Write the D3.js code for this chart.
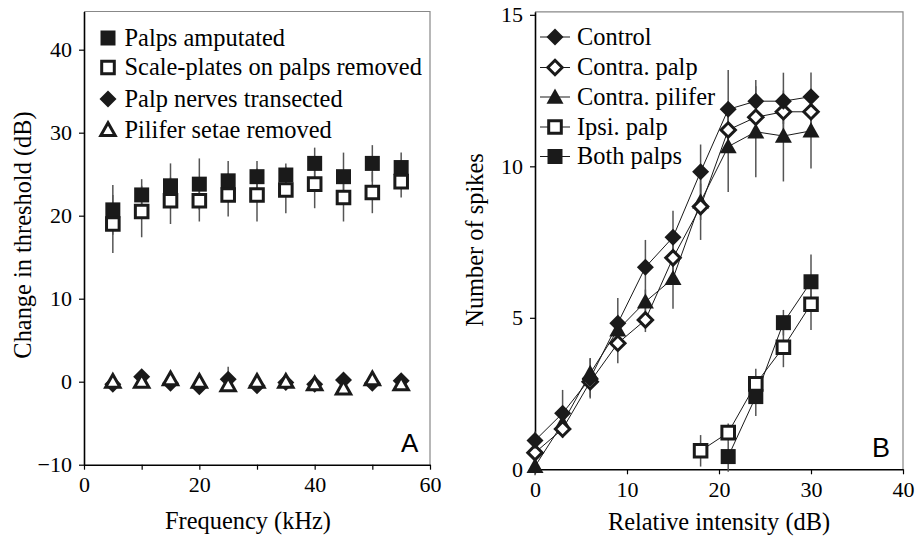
<!DOCTYPE html>
<html>
<head>
<meta charset="utf-8">
<script src="https://cdn.jsdelivr.net/npm/d3@7"></script>
<style>
  html, body { margin: 0; padding: 0; background: #fff; }
  svg { display: block; }
</style>
</head>
<body>
<svg id="chart" width="916" height="538"></svg>
<script>
// ---------- Panel A data ----------
const freqA = [5, 10, 15, 20, 25, 30, 35, 40, 45, 50, 55];
const palpsAmputated    = [20.7, 22.5, 23.6, 23.8, 24.2, 24.7, 24.9, 26.3, 24.7, 26.3, 25.8];
const palpsAmputatedErr = [3.0, 1.9, 2.7, 3.1, 2.4, 1.9, 1.4, 1.9, 2.9, 2.2, 1.8];
const scalePlates       = [19.0, 20.5, 21.8, 21.8, 22.5, 22.5, 23.1, 23.8, 22.2, 22.8, 24.1];
const scalePlatesErr    = [3.5, 3.1, 2.8, 2.5, 2.6, 3.2, 2.8, 2.9, 2.9, 2.5, 1.9];
const palpNerves        = [-0.3, 0.6, -0.2, -0.6, 0.3, -0.5, -0.1, -0.3, 0.2, -0.2, 0.1];
const palpNervesErr     = [0.4, 0.4, 0.4, 0.4, 1.5, 0.4, 0.4, 0.4, 0.4, 0.4, 0.4];
const piliferSetae      = [0.0, 0.0, 0.3, 0.0, -0.4, 0.0, 0.0, -0.3, -0.8, 0.3, -0.3];
const piliferSetaeErr   = [0.4, 0.4, 0.4, 0.4, 0.4, 0.4, 0.4, 0.4, 0.4, 0.4, 0.4];
const ticksAx = [0, 10, 20, 30, 40, 50, 60];
const labelsAx = [0, 20, 40, 60];
const ticksAy = [-10, 0, 10, 20, 30, 40];
const legendA = ["Palps amputated", "Scale-plates on palps removed", "Palp nerves transected", "Pilifer setae removed"];

// ---------- Panel B data ----------
const intensityB = [0, 3, 6, 9, 12, 15, 18, 21, 24, 27, 30];
const control        = [0.95, 1.85, 3.0, 4.82, 6.67, 7.66, 9.82, 11.88, 12.15, 12.15, 12.3];
const controlErr     = [0.3, 0.77, 0.66, 0.83, 0.9, 0.87, 0.9, 1.3, 0.7, 0.94, 0.8];
const contraPalp     = [0.55, 1.33, 2.89, 4.16, 4.93, 6.98, 8.67, 11.2, 11.62, 11.8, 11.8];
const contraPalpErr  = [0.3, 0.3, 0.5, 0.66, 0.4, 0.5, 1.1, 0.5, 0.4, 0.4, 0.4];
const contraPilifer  = [0.1, 1.52, 3.17, 4.6, 5.53, 6.3, 8.83, 10.65, 11.14, 11.0, 11.17];
const contraPiliferErr = [0.3, 0.3, 0.5, 0.5, 0.4, 1.0, 0.6, 1.5, 1.5, 1.5, 1.24];
const intensityIpsi = [18, 21, 24, 27, 30];
const ipsiPalp      = [0.61, 1.21, 2.82, 4.03, 5.45];
const ipsiPalpErr   = [0.52, 0.3, 0.5, 0.66, 0.85];
const intensityBoth = [21, 24, 27, 30];
const bothPalps     = [0.42, 2.4, 4.84, 6.19];
const bothPalpsErr  = [0.5, 0.64, 0.42, 0.9];
const ticksBx = [0, 10, 20, 30, 40];
const ticksBy = [0, 5, 10, 15];
const legendB = ["Control", "Contra. palp", "Contra. pilifer", "Ipsi. palp", "Both palps"];

// ---------- helpers ----------
const INK = "#1a1a1a";
const SERIF = "Liberation Serif";
const SANS = "Liberation Sans";
const FS = 24.4;
const sq  = r => `M${-r},${-r}H${r}V${r}H${-r}Z`;
const dia = r => `M0,${-r}L${r},0L0,${r}L${-r},0Z`;
const tri = r => `M0,${-r}L${r},${r * 0.78}L${-r},${r * 0.78}Z`;

const marker = {
  fsq:  { d: sq(7.5), fill: INK, stroke: "none", sw: 0 },
  osq:  { d: sq(6.3), fill: "#fff", stroke: INK, sw: 3 },
  fdia: { d: dia(8.5), fill: INK, stroke: "none", sw: 0 },
  odia: { d: dia(7.2), fill: "#fff", stroke: INK, sw: 3 },
  ftri: { d: tri(8.5), fill: INK, stroke: "none", sw: 0 },
  otri: { d: tri(7.2), fill: "#fff", stroke: INK, sw: 3 }
};

const svg = d3.select("#chart");

function txt(sel, family, size) {
  return sel.style("font-family", family).style("font-size", size + "px").style("fill", "#000");
}
function drawMarkers(g, xs, ys, x, y, m) {
  g.selectAll(null).data(xs.map((v, i) => [v, ys[i]])).join("path")
    .attr("d", m.d).attr("transform", d => `translate(${x(d[0])},${y(d[1])})`)
    .attr("fill", m.fill).attr("stroke", m.stroke).attr("stroke-width", m.sw);
}
function drawErr(g, xs, ys, es, x, y) {
  g.selectAll(null).data(xs.map((v, i) => [v, ys[i], es[i]])).join("line")
    .attr("x1", d => x(d[0])).attr("x2", d => x(d[0]))
    .attr("y1", d => y(d[1] - d[2])).attr("y2", d => y(d[1] + d[2]))
    .attr("stroke", "#555").attr("stroke-width", 1.5);
}
function drawLine(g, xs, ys, x, y) {
  g.append("path").datum(xs.map((v, i) => [v, ys[i]]))
    .attr("d", d3.line().x(d => x(d[0])).y(d => y(d[1])))
    .attr("fill", "none").attr("stroke", INK).attr("stroke-width", 1);
}
function frame(x0, x1, y0, y1) {
  svg.append("path").attr("d", `M${x0},${y0}H${x1}V${y1}`)
    .attr("fill", "none").attr("stroke", "#888").attr("stroke-width", 1.2);
}
function styleAxis(g) {
  g.select(".domain").attr("stroke", "#000").attr("stroke-width", 1.6);
  g.selectAll(".tick line").attr("stroke", "#000").attr("stroke-width", 1.2);
  txt(g.selectAll(".tick text"), SERIF, 22);
}

// ---------- Panel A ----------
const xA = d3.scaleLinear().domain([0, 60]).range([84, 430]);
const yA = d3.scaleLinear().domain([-10, 44.6]).range([464.7, 11.5]);
frame(xA(0), xA(60), yA(44.6), yA(-10));

const axA = svg.append("g").attr("transform", `translate(0,${yA(-10)})`)
  .call(d3.axisBottom(xA).tickValues(ticksAx).tickSize(5).tickSizeOuter(0).tickPadding(7)
    .tickFormat(d => labelsAx.includes(d) ? d : ""));
styleAxis(axA);
const ayA = svg.append("g").attr("transform", `translate(${xA(0)},0)`)
  .call(d3.axisLeft(yA).tickValues(ticksAy).tickSize(5).tickSizeOuter(0).tickPadding(7));
styleAxis(ayA);

const gA = svg.append("g");
drawErr(gA, freqA, palpsAmputated, palpsAmputatedErr, xA, yA);
drawErr(gA, freqA, scalePlates, scalePlatesErr, xA, yA);
drawErr(gA, freqA, palpNerves, palpNervesErr, xA, yA);
drawErr(gA, freqA, piliferSetae, piliferSetaeErr, xA, yA);
drawMarkers(gA, freqA, palpsAmputated, xA, yA, marker.fsq);
drawMarkers(gA, freqA, scalePlates, xA, yA, marker.osq);
drawMarkers(gA, freqA, palpNerves, xA, yA, marker.fdia);
drawMarkers(gA, freqA, piliferSetae, xA, yA, marker.otri);

// legend A
const legAy = [38, 67.5, 99, 130];
const legAm = [marker.fsq, marker.osq, marker.fdia, marker.otri];
legendA.forEach((t, i) => {
  const m = legAm[i];
  svg.append("path").attr("d", m.d).attr("transform", `translate(108,${legAy[i]})`)
    .attr("fill", m.fill).attr("stroke", m.stroke).attr("stroke-width", m.sw);
  txt(svg.append("text").attr("x", 124.5).attr("y", legAy[i] + 7.5).text(t), SERIF, FS);
});

txt(svg.append("text").attr("x", 248).attr("y", 529).attr("text-anchor", "middle")
  .text("Frequency (kHz)"), SERIF, FS);
txt(svg.append("text").attr("transform", "translate(31,235) rotate(-90)").attr("text-anchor", "middle")
  .text("Change in threshold (dB)"), SERIF, FS);
txt(svg.append("text").attr("x", 401).attr("y", 451.5).text("A"), SANS, 26);

// ---------- Panel B ----------
const xB = d3.scaleLinear().domain([0, 40]).range([535, 903]);
const yB = d3.scaleLinear().domain([0, 15.1]).range([469.3, 11.8]);
frame(xB(0), xB(40), yB(15.1), yB(0));

const axB = svg.append("g").attr("transform", `translate(0,${yB(0)})`)
  .call(d3.axisBottom(xB).tickValues(ticksBx).tickSize(5).tickSizeOuter(0).tickPadding(7));
styleAxis(axB);
const ayB = svg.append("g").attr("transform", `translate(${xB(0)},0)`)
  .call(d3.axisLeft(yB).tickValues(ticksBy).tickSize(5).tickSizeOuter(0).tickPadding(7));
styleAxis(ayB);

const gB = svg.append("g");
drawErr(gB, intensityB, control, controlErr, xB, yB);
drawErr(gB, intensityB, contraPalp, contraPalpErr, xB, yB);
drawErr(gB, intensityB, contraPilifer, contraPiliferErr, xB, yB);
drawErr(gB, intensityIpsi, ipsiPalp, ipsiPalpErr, xB, yB);
drawErr(gB, intensityBoth, bothPalps, bothPalpsErr, xB, yB);
drawLine(gB, intensityB, control, xB, yB);
drawLine(gB, intensityB, contraPalp, xB, yB);
drawLine(gB, intensityB, contraPilifer, xB, yB);
drawLine(gB, intensityIpsi, ipsiPalp, xB, yB);
drawLine(gB, intensityBoth, bothPalps, xB, yB);
drawMarkers(gB, intensityB, contraPilifer, xB, yB, marker.ftri);
drawMarkers(gB, intensityB, contraPalp, xB, yB, marker.odia);
drawMarkers(gB, intensityB, control, xB, yB, marker.fdia);
drawMarkers(gB, intensityIpsi, ipsiPalp, xB, yB, marker.osq);
drawMarkers(gB, intensityBoth, bothPalps, xB, yB, marker.fsq);

// legend B
const legBy = [37, 67.5, 97, 127, 156.5];
const legBm = [marker.fdia, marker.odia, marker.ftri, marker.osq, marker.fsq];
legendB.forEach((t, i) => {
  const m = legBm[i];
  svg.append("line").attr("x1", 540).attr("x2", 570).attr("y1", legBy[i]).attr("y2", legBy[i])
    .attr("stroke", INK).attr("stroke-width", 1);
  svg.append("path").attr("d", m.d).attr("transform", `translate(555,${legBy[i]})`)
    .attr("fill", m.fill).attr("stroke", m.stroke).attr("stroke-width", m.sw);
  txt(svg.append("text").attr("x", 577).attr("y", legBy[i] + 7.5).text(t), SERIF, FS);
});

txt(svg.append("text").attr("x", 719).attr("y", 530).attr("text-anchor", "middle")
  .text("Relative intensity (dB)"), SERIF, FS);
txt(svg.append("text").attr("transform", "translate(483,240) rotate(-90)").attr("text-anchor", "middle")
  .text("Number of spikes"), SERIF, FS);
txt(svg.append("text").attr("x", 872).attr("y", 456.5).text("B"), SANS, 27);
</script>
</body>
</html>
